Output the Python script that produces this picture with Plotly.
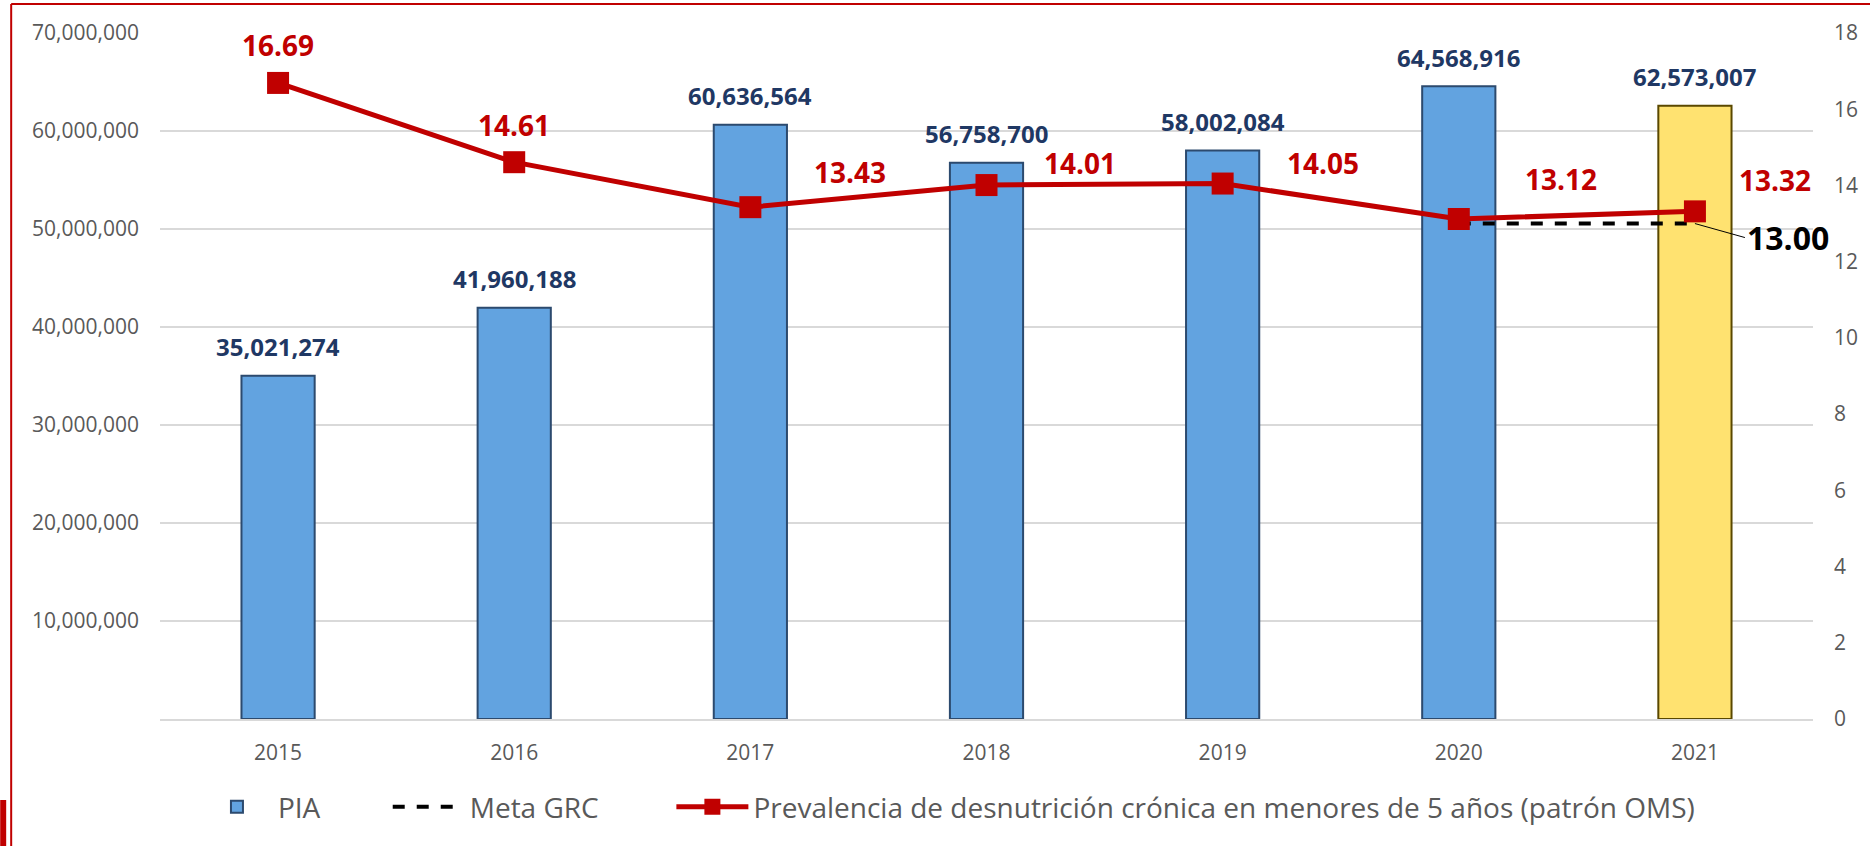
import plotly.graph_objects as go

years = [2015, 2016, 2017, 2018, 2019, 2020, 2021]
pia = [35021274, 41960188, 60636564, 56758700, 58002084, 64568916, 62573007]
prevalencia = [16.69, 14.61, 13.43, 14.01, 14.05, 13.12, 13.32]
meta_grc = [None, None, None, None, None, 13.00, 13.00]
left_ticks = [10000000, 20000000, 30000000, 40000000, 50000000, 60000000, 70000000]
right_ticks = [0, 2, 4, 6, 8, 10, 12, 14, 16, 18]

W, H = 1870, 846
L, R, T, B = 160, 55, 33, 127
FONT = "Open Sans"


def px_x(px):
    return (px - L) / (W - L - R)


def px_y(py):
    return (H - B - py) / (H - T - B)


bar_colors = ["#62A3E0"] * 6 + ["#FFE270"]
bar_lines = ["#2C4A6E"] * 6 + ["#5A4800"]

fig = go.Figure()

fig.add_trace(go.Bar(
    x=years, y=pia, name="PIA",
    marker=dict(color=bar_colors, line=dict(color=bar_lines, width=2)),
    width=0.31, legend="legend", showlegend=True,
))

fig.add_trace(go.Scatter(
    x=years, y=meta_grc, name="Meta GRC", yaxis="y2",
    mode="lines", line=dict(color="black", width=4, dash="dash"),
    legend="legend2", showlegend=True,
))

fig.add_trace(go.Scatter(
    x=years, y=prevalencia, yaxis="y2",
    name="Prevalencia de desnutrición crónica en menores de 5 años (patrón OMS)",
    mode="lines+markers", line=dict(color="#C00000", width=5),
    marker=dict(symbol="square", size=22, color="#C00000"),
    legend="legend3", showlegend=True,
))

annotations = []
for yr, v in zip(years, pia):
    annotations.append(dict(
        x=yr, y=v, xref="x", yref="y", text=f"{v:,}", showarrow=False,
        yshift=29, font=dict(family=FONT, size=24, color="#1F3864", weight="bold"),
    ))

label_shift = [(0, 38), (0, 37), (100, 35), (93, 22), (100, 21), (102, 40), (80, 31)]
for yr, v, (dx, dy) in zip(years, prevalencia, label_shift):
    annotations.append(dict(
        x=yr, y=v, xref="x", yref="y2", text=f"{v:.2f}", showarrow=False,
        xshift=dx, yshift=dy,
        font=dict(family=FONT, size=28, color="#C00000", weight="bold"),
    ))

annotations.append(dict(
    x=years[-1], y=meta_grc[-1], xref="x", yref="y2", text=f"{meta_grc[-1]:.2f}",
    showarrow=True, arrowhead=0, arrowwidth=1, arrowcolor="black",
    ax=50, ay=14, xanchor="left", standoff=0,
    font=dict(family=FONT, size=32, color="black", weight="bold"),
))

shapes = [
    dict(type="line", xref="paper", yref="paper",
         x0=px_x(11), x1=px_x(W + 5), y0=px_y(4), y1=px_y(4),
         line=dict(color="#C00000", width=2)),
    dict(type="line", xref="paper", yref="paper",
         x0=px_x(11), x1=px_x(11), y0=px_y(4), y1=px_y(H + 5),
         line=dict(color="#C00000", width=2)),
    dict(type="rect", xref="paper", yref="paper",
         x0=px_x(0), x1=px_x(6), y0=px_y(800), y1=px_y(H + 5),
         fillcolor="#C00000", line=dict(width=0)),
]

legend_base = dict(
    orientation="h", yanchor="middle", xanchor="left", y=px_y(807),
    font=dict(family=FONT, size=28, color="#595959"),
    bgcolor="rgba(0,0,0,0)", itemwidth=72,
)

fig.update_layout(
    width=W, height=H,
    margin=dict(l=L, r=R, t=T, b=B),
    plot_bgcolor="white", paper_bgcolor="white",
    font=dict(family=FONT, color="#595959"),
    showlegend=True,
    xaxis=dict(
        range=[years[0] - 0.5, years[-1] + 0.5], tickvals=years,
        showgrid=False, showline=True, linecolor="#D9D9D9", zeroline=False,
        linewidth=2, ticks="", tickfont=dict(size=21, color="#595959"),
        ticklabelstandoff=14,
    ),
    yaxis=dict(
        range=[0, 70000000], tickvals=left_ticks, tickformat=",",
        showgrid=True, gridcolor="#D9D9D9", gridwidth=2, zeroline=False,
        tickfont=dict(size=21, color="#595959"), ticklabelstandoff=20,
    ),
    yaxis2=dict(
        range=[0, 18], tickvals=right_ticks, overlaying="y", side="right",
        showgrid=False, zeroline=False,
        tickfont=dict(size=21, color="#595959"), ticklabelstandoff=20,
    ),
    legend=dict(legend_base, x=px_x(196)),
    legend2=dict(legend_base, x=px_x(388)),
    legend3=dict(legend_base, x=px_x(672)),
    annotations=annotations,
    shapes=shapes,
)

fig.write_html(
    "out.html",
    config={"displayModeBar": False},
    post_script="document.body.style.margin='0';document.body.style.overflow='hidden';",
)
